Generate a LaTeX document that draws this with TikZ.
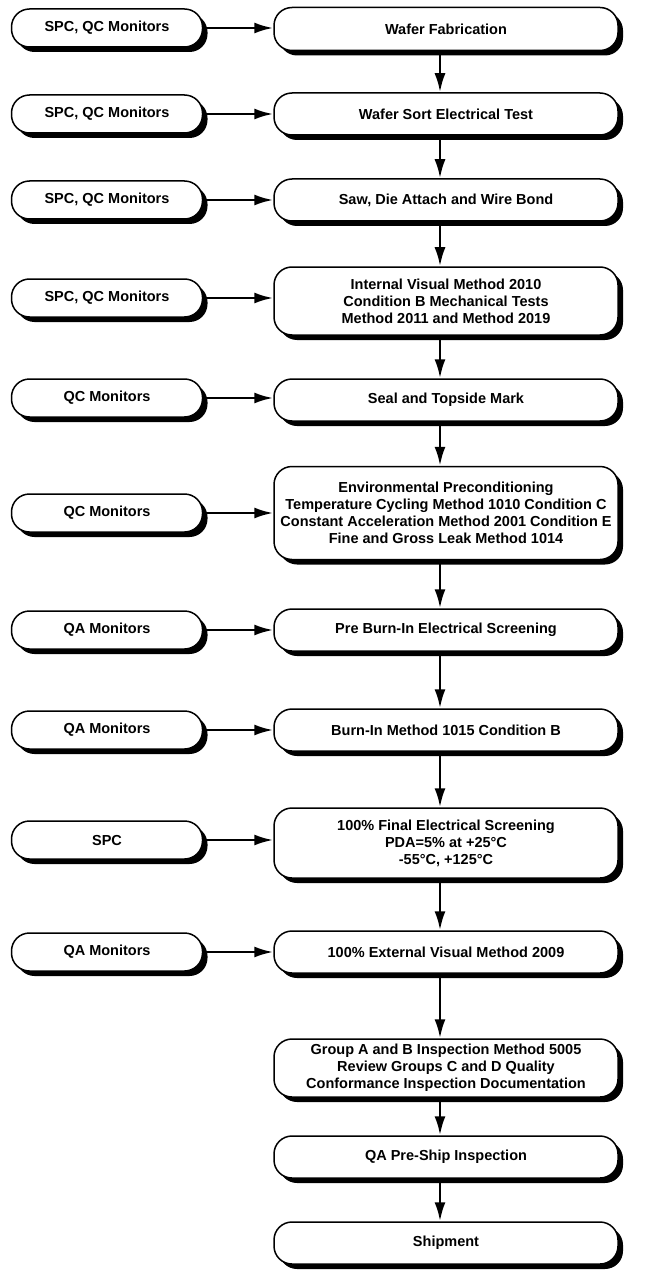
\documentclass[tikz,border=0pt]{standalone}
\usepackage{fontspec}
\setmainfont{Liberation Sans}
\usetikzlibrary{shadows,arrows.meta,calc}
\begin{document}
\begin{tikzpicture}[x=1pt,y=-1pt,
  box/.style={draw,line width=1.5pt,fill=white,rounded corners=18pt,align=center,
    font=\bfseries\fontsize{14.5}{17}\selectfont,inner sep=0pt,
    drop shadow={shadow xshift=5pt,shadow yshift=-5pt,opacity=1,fill=black}},
  lbox/.style={box,minimum width=191pt,minimum height=38pt},
  rbox/.style={box,minimum width=344pt},
  arr/.style={line width=2.6pt,-{Latex[length=19pt,width=11pt]}}]
\useasboundingbox (0,0) rectangle (650,1273);
\coordinate (ax) at (440,0);
% right column
\node[rbox,minimum height=43pt] (r1) at (446,29) {Wafer Fabrication};
\node[rbox,minimum height=42pt] (r2) at (446,114) {Wafer Sort Electrical Test};
\node[rbox,minimum height=42pt] (r3) at (446,200) {Saw, Die Attach and Wire Bond};
\node[rbox,minimum height=68pt] (r4) at (446,301) {Internal Visual Method 2010\\Condition B Mechanical Tests\\Method 2011 and Method 2019};
\node[rbox,minimum height=42pt] (r5) at (446,400) {Seal and Topside Mark};
\node[rbox,minimum height=93pt] (r6) at (446,513) {Environmental Preconditioning\\Temperature Cycling Method 1010 Condition C\\Constant Acceleration Method 2001 Condition E\\Fine and Gross Leak Method 1014};
\node[rbox,minimum height=42pt] (r7) at (446,630) {Pre Burn-In Electrical Screening};
\node[rbox,minimum height=42pt] (r8) at (446,730) {Burn-In Method 1015 Condition B};
\node[rbox,minimum height=70pt] (r9) at (446,843) {100\% Final Electrical Screening\\PDA=5\% at +25°C\\-55°C, +125°C};
\node[rbox,minimum height=42pt] (r10) at (446,952) {100\% External Visual Method 2009};
\node[rbox,minimum height=58pt] (r11) at (446,1068) {Group A and B Inspection Method 5005\\Review Groups C and D Quality\\Conformance Inspection Documentation};
\node[rbox,minimum height=42pt] (r12) at (446,1157) {QA Pre-Ship Inspection};
\node[rbox,minimum height=42pt] (r13) at (446,1243) {Shipment};
% left column
\node[lbox] (l1) at (107,28) {SPC, QC Monitors};
\node[lbox] (l2) at (107,114) {SPC, QC Monitors};
\node[lbox] (l3) at (107,200) {SPC, QC Monitors};
\node[lbox] (l4) at (107,298) {SPC, QC Monitors};
\node[lbox] (l5) at (107,398) {QC Monitors};
\node[lbox] (l6) at (107,513) {QC Monitors};
\node[lbox] (l7) at (107,630) {QA Monitors};
\node[lbox] (l8) at (107,730) {QA Monitors};
\node[lbox] (l9) at (107,840) {SPC};
\node[lbox] (l10) at (107,952) {QA Monitors};
% horizontal arrows
\foreach \i in {1,...,10}{
  \draw[arr] (l\i.east) -- (l\i.east -| r\i.west);
}
% vertical arrows
\foreach \i [evaluate=\i as \j using int(\i+1)] in {1,...,12}{
  \draw[arr] (r\i.south -| ax) -- (r\j.north -| ax);
}
\end{tikzpicture}
\end{document}
